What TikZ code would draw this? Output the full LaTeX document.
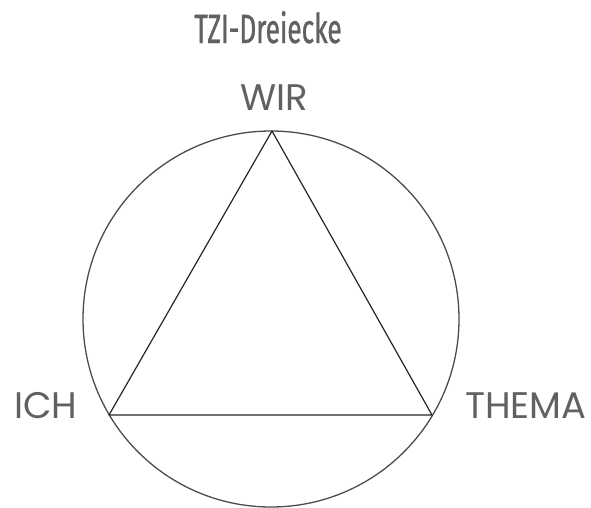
\documentclass[tikz,border=0pt]{standalone}
\usepackage{fontspec}
\setmainfont{Poppins}
\newfontfamily\titlefont[FakeStretch=0.64,FakeBold=0.8]{Fira Sans}
\begin{document}
\begin{tikzpicture}[x=1pt,y=-1pt,
  lbl/.style={inner sep=0pt, text=black!62, font=\fontsize{37}{40}\selectfont},
  ttl/.style={inner sep=0pt, text=black!62, font=\titlefont\fontsize{41}{44}\selectfont},
  edge/.style={draw=black!85, line width=1.2pt, line join=round},
  ring/.style={draw=black!70, line width=1.3pt}]
\useasboundingbox (0,0) rectangle (591,507);
\coordinate (O) at (271,319);
\draw[ring] (O) circle (188);
\coordinate (W) at (272,131);
\coordinate (I) at (109,415);
\coordinate (T) at (432,415);
\draw[edge] (W) -- (I) -- (T) -- cycle;
\node[ttl, anchor=base] (title) at (268,43) {TZI-Dreiecke};
\node[lbl, anchor=base] (wir) at (274,110) {WIR};
\node[lbl, anchor=base west] (ich) at (14,418) {ICH};
\node[lbl, anchor=base west] (thema) at (465,418) {THEMA};
\end{tikzpicture}
\end{document}
